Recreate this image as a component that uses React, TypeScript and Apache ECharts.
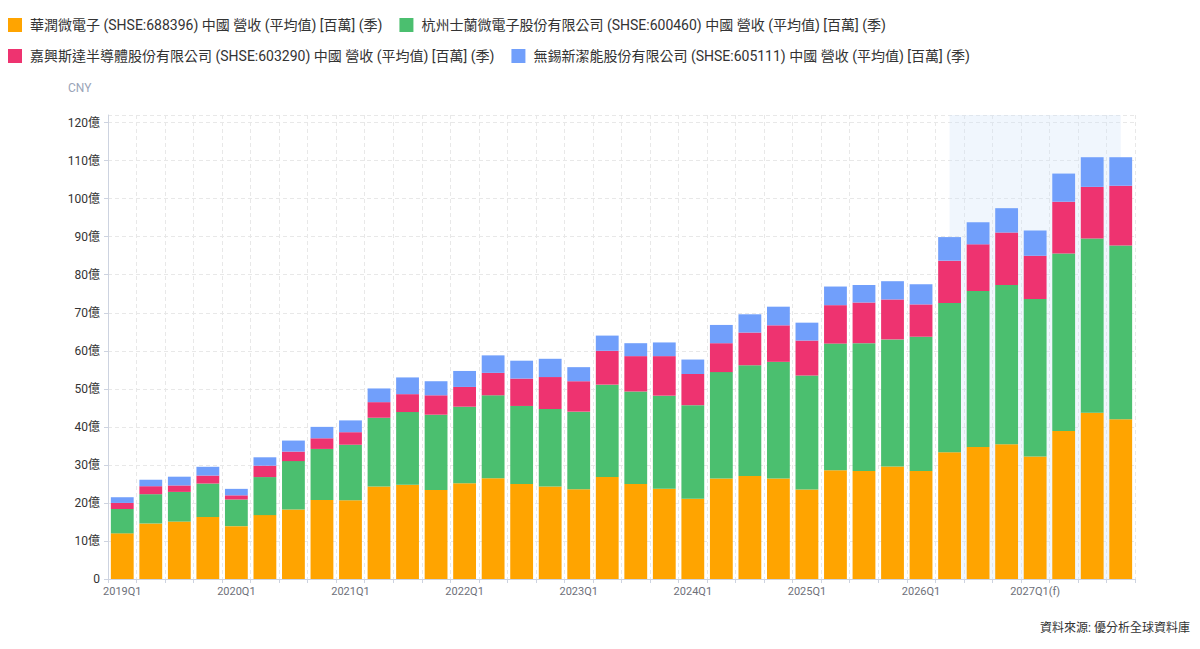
import React, { useEffect, useRef } from "react";
import * as echarts from "echarts";

const categories = [
  "2019Q1","2019Q2","2019Q3","2019Q4",
  "2020Q1","2020Q2","2020Q3","2020Q4",
  "2021Q1","2021Q2","2021Q3","2021Q4",
  "2022Q1","2022Q2","2022Q3","2022Q4",
  "2023Q1","2023Q2","2023Q3","2023Q4",
  "2024Q1","2024Q2","2024Q3","2024Q4",
  "2025Q1","2025Q2","2025Q3","2025Q4",
  "2026Q1","2026Q2(f)","2026Q3(f)","2026Q4(f)",
  "2027Q1(f)","2027Q2(f)","2027Q3(f)","2027Q4(f)",
];

// 單位：億 CNY
const huarun = [
  12.0, 14.6, 15.1, 16.3, 13.9, 16.8, 18.3, 20.8, 20.7, 24.3, 24.8, 23.4,
  25.2, 26.5, 25.0, 24.3, 23.6, 26.8, 25.0, 23.7, 21.1, 26.4, 27.1, 26.4,
  23.5, 28.6, 28.4, 29.6, 28.4, 33.3, 34.7, 35.4, 32.2, 38.9, 43.7, 42.0,
];
const silan = [
  6.4, 7.7, 7.8, 8.8, 7.0, 10.0, 12.7, 13.4, 14.6, 18.1, 19.1, 19.8,
  20.1, 21.8, 20.5, 20.4, 20.4, 24.3, 24.3, 24.5, 24.6, 28.0, 29.1, 30.7,
  30.0, 33.3, 33.6, 33.4, 35.3, 39.3, 41.0, 41.9, 41.4, 46.7, 45.8, 45.7,
];
const starPower = [
  1.6, 2.1, 1.7, 2.1, 1.1, 3.0, 2.5, 2.8, 3.3, 4.1, 4.7, 5.1,
  5.2, 5.9, 7.2, 8.4, 8.0, 8.9, 9.3, 10.4, 8.2, 7.6, 8.6, 9.6,
  9.2, 10.1, 10.7, 10.5, 8.5, 11.1, 12.3, 13.8, 11.4, 13.6, 13.6, 15.7,
];
const newClean = [
  1.5, 1.7, 2.3, 2.3, 1.7, 2.2, 2.9, 3.0, 3.1, 3.6, 4.4, 3.7,
  4.2, 4.6, 4.7, 4.8, 3.7, 4.0, 3.4, 3.6, 3.8, 4.8, 4.8, 4.9,
  4.7, 4.9, 4.6, 4.8, 5.3, 6.2, 5.8, 6.4, 6.6, 7.4, 7.8, 7.5,
];

const seriesNames = [
  "華潤微電子 (SHSE:688396) 中國 營收 (平均值) [百萬] (季)",
  "杭州士蘭微電子股份有限公司 (SHSE:600460) 中國 營收 (平均值) [百萬] (季)",
  "嘉興斯達半導體股份有限公司 (SHSE:603290) 中國 營收 (平均值) [百萬] (季)",
  "無錫新潔能股份有限公司 (SHSE:605111) 中國 營收 (平均值) [百萬] (季)",
];
const colors = ["#FFA400", "#4BBF6F", "#EE3370", "#719FFB"];
const forecastStart = "2026Q2(f)";
const forecastEnd = "2027Q4(f)";

const FONT = "Roboto, 'Noto Sans CJK TC', 'Noto Sans', sans-serif";

export default function App() {
  const ref = useRef<HTMLDivElement>(null);

  useEffect(() => {
    if (!ref.current) return;
    const chart = echarts.init(ref.current, undefined, { renderer: "svg" });
    const dataSets = [huarun, silan, starPower, newClean];

    const legendCommon = {
      left: 8,
      padding: 0,
      itemWidth: 14,
      itemHeight: 14,
      itemGap: 17,
      icon: "rect",
      selectedMode: false,
      textStyle: {
        fontSize: 14,
        color: "#333",
        fontFamily: FONT,
        padding: [0, 0, 0, 3],
      },
    };

    chart.setOption({
      animation: false,
      textStyle: { fontFamily: FONT },
      legend: [
        { ...legendCommon, top: 18, data: [seriesNames[0], seriesNames[1]] },
        { ...legendCommon, top: 49, data: [seriesNames[2], seriesNames[3]] },
      ],
      grid: { left: 108, right: 65, top: 115, bottom: 70 },
      xAxis: {
        type: "category",
        data: categories,
        boundaryGap: true,
        axisLine: { lineStyle: { color: "#CDD3E0" } },
        axisTick: { show: true, interval: 0, length: 4, lineStyle: { color: "#CDD3E0" } },
        axisLabel: {
          interval: 3,
          color: "#6E7079",
          fontSize: 11,
          margin: 7,
          fontFamily: FONT,
        },
        splitLine: {
          show: true,
          interval: 0,
          lineStyle: { color: "#E8E8E8", type: [4, 3] },
        },
      },
      yAxis: {
        type: "value",
        min: 0,
        max: 122,
        interval: 10,
        axisLine: { show: true, lineStyle: { color: "#CDD3E0" } },
        axisTick: { show: true, length: 4, lineStyle: { color: "#CDD3E0" } },
        axisLabel: {
          color: "#333",
          fontSize: 12,
          margin: 8,
          fontFamily: FONT,
          formatter: (v: number) => (v === 0 ? "0" : `${v}億`),
        },
        splitLine: { show: true, lineStyle: { color: "#E8E8E8", type: [4, 3] } },
      },
      graphic: [
        {
          type: "text",
          left: 68,
          top: 82,
          style: { text: "CNY", fill: "#9AA4B8", fontSize: 12, fontFamily: FONT },
        },
        {
          type: "text",
          right: 10,
          top: 622,
          style: {
            text: "資料來源: 優分析全球資料庫",
            fill: "#333",
            fontSize: 12,
            fontFamily: FONT,
          },
        },
      ],
      series: [
        {
          name: "forecast",
          type: "line",
          data: [],
          z: 1,
          silent: true,
          markArea: {
            silent: true,
            itemStyle: { color: "rgba(205, 225, 248, 0.3)" },
            data: [[{ xAxis: forecastStart }, { xAxis: forecastEnd }]],
          },
        },
        ...seriesNames.map((name, i) => ({
          name,
          type: "bar",
          stack: "total",
          z: 3,
          barCategoryGap: "20%",
          itemStyle: { color: colors[i] },
          emphasis: { disabled: true },
          data: dataSets[i],
        })),
      ],
    });

    return () => chart.dispose();
  }, []);

  return (
    <div
      ref={ref}
      style={{ position: "fixed", left: 0, top: 0, width: 1200, height: 649, background: "#fff" }}
    />
  );
}
